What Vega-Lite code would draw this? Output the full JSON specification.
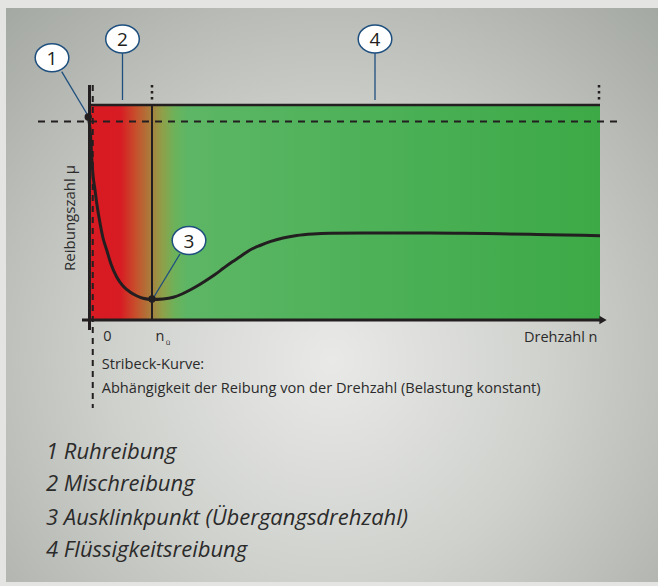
{
  "$schema": "https://vega.github.io/schema/vega-lite/v6.json",
  "width": 658,
  "height": 586,
  "padding": 0,
  "autosize": "none",
  "background": "#e4e5e3",
  "config": {"view": {"stroke": null}},
  "datasets": {
    "panel": [{"x1": -16.8, "x2": 113.6, "y1": 1.56, "y2": -1.31}],
    "box": [{"x1": 0, "x2": 102, "y1": 0, "y2": 1.075}],
    "solid": [
      {"x1": 0, "x2": 102, "y1": 1.075, "y2": 1.075, "w": 2.5},
      {"x1": -0.1, "x2": -0.1, "y1": 1.175, "y2": -0.05, "w": 3},
      {"x1": -1.6, "x2": 102.6, "y1": 0, "y2": 0, "w": 3},
      {"x1": 12.4, "x2": 12.4, "y1": 0, "y2": 1.075, "w": 2}
    ],
    "dotted": [
      {"x1": 12.4, "x2": 12.4, "y1": 1.175, "y2": 1.085},
      {"x1": 101.8, "x2": 101.8, "y1": 1.175, "y2": 1.085}
    ],
    "dashv": [{"x1": 0.55, "x2": 0.55, "y1": 1.175, "y2": -0.44}],
    "dashh": [{"x1": -10.4, "x2": 105.6, "y1": 0.9925, "y2": 0.9925}],
    "curve": [
      {"n": -0.35, "mu": 1.015}, {"n": 0.1, "mu": 0.925}, {"n": 0.34, "mu": 0.815},
      {"n": 0.6, "mu": 0.725}, {"n": 1.0, "mu": 0.65}, {"n": 1.4, "mu": 0.575},
      {"n": 2.0, "mu": 0.485}, {"n": 2.6, "mu": 0.41}, {"n": 3.34, "mu": 0.35},
      {"n": 4.2, "mu": 0.28}, {"n": 5.34, "mu": 0.215}, {"n": 6.6, "mu": 0.17},
      {"n": 8.0, "mu": 0.14}, {"n": 9.4, "mu": 0.12}, {"n": 10.6, "mu": 0.1085},
      {"n": 12.4, "mu": 0.1025}, {"n": 14.6, "mu": 0.105}, {"n": 16.66, "mu": 0.1135},
      {"n": 18.4, "mu": 0.13}, {"n": 20, "mu": 0.15}, {"n": 21.6, "mu": 0.1725},
      {"n": 23.34, "mu": 0.2}, {"n": 25, "mu": 0.2275}, {"n": 26.66, "mu": 0.2585},
      {"n": 28.4, "mu": 0.29}, {"n": 30, "mu": 0.3165}, {"n": 32, "mu": 0.35},
      {"n": 34, "mu": 0.3725}, {"n": 36, "mu": 0.3915}, {"n": 38.6, "mu": 0.41},
      {"n": 41.34, "mu": 0.4225}, {"n": 44.6, "mu": 0.43}, {"n": 48, "mu": 0.4335},
      {"n": 54.6, "mu": 0.435}, {"n": 61.34, "mu": 0.435}, {"n": 68, "mu": 0.435},
      {"n": 74.66, "mu": 0.4335}, {"n": 82, "mu": 0.431}, {"n": 88, "mu": 0.4285},
      {"n": 95, "mu": 0.425}, {"n": 102, "mu": 0.4215}
    ],
    "leaders": [
      {"x1": -5.66, "y1": 1.2415, "x2": -0.6, "y2": 1.03},
      {"x1": 6.5, "y1": 1.335, "x2": 6.5, "y2": 1.1},
      {"x1": 57, "y1": 1.335, "x2": 57, "y2": 1.1},
      {"x1": 18, "y1": 0.33, "x2": 12.6, "y2": 0.1075}
    ],
    "dots": [{"x": -0.35, "y": 1.015}, {"x": 12.4, "y": 0.105}],
    "arrow": [{"x": 102.6, "y": 0}],
    "callouts": [
      {"x": -7.6, "y": 1.311, "label": "1"},
      {"x": 6.5, "y": 1.405, "label": "2"},
      {"x": 19.8, "y": 0.3975, "label": "3"},
      {"x": 57, "y": 1.405, "label": "4"}
    ],
    "centerText": [
      {"x": 3.46, "y": -0.0835, "label": "0"},
      {"x": 14, "y": -0.0835, "label": "n"}
    ],
    "subText": [{"x": 15.6, "y": -0.114, "label": "ü"}],
    "leftText": [
      {"x": 2.34, "y": -0.225, "label": "Stribeck-Kurve:"},
      {"x": 2.34, "y": -0.345, "label": "Abhängigkeit der Reibung von der Drehzahl (Belastung konstant)"}
    ],
    "rightText": [{"x": 101.5, "y": -0.09, "label": "Drehzahl n"}],
    "yTitle": [{"x": -4, "y": 0.51, "label": "Reibungszahl μ"}],
    "legend": [
      {"x": -8.8, "y": -0.6585, "label": "1 Ruhreibung"},
      {"x": -8.8, "y": -0.82, "label": "2 Mischreibung"},
      {"x": -8.8, "y": -0.9885, "label": "3 Ausklinkpunkt (Übergangsdrehzahl)"},
      {"x": -8.8, "y": -1.15, "label": "4 Flüssigkeitsreibung"}
    ]
  },
  "encoding": {
    "x": {"field": "x1", "type": "quantitative", "scale": {"domain": [-18, 113.6], "nice": false, "zero": false}, "axis": null},
    "y": {"field": "y1", "type": "quantitative", "scale": {"domain": [-1.33, 1.6], "nice": false, "zero": false}, "axis": null}
  },
  "layer": [
    {
      "data": {"name": "panel"},
      "mark": {"type": "rect", "fill": {"gradient": "radial", "x1": 0.5, "y1": 0.6, "r1": 0, "x2": 0.5, "y2": 0.6, "r2": 0.75,
        "stops": [{"offset": 0, "color": "#e9eae8"}, {"offset": 0.45, "color": "#cfd1cd"}, {"offset": 1, "color": "#a3a7a1"}]}},
      "encoding": {"x2": {"field": "x2"}, "y2": {"field": "y2"}}
    },
    {
      "data": {"name": "box"},
      "mark": {"type": "rect", "fill": {"gradient": "linear", "x1": 0, "y1": 0, "x2": 1, "y2": 0,
        "stops": [
          {"offset": 0, "color": "#d81a22"}, {"offset": 0.06, "color": "#d81c23"},
          {"offset": 0.09, "color": "#c6502c"}, {"offset": 0.118, "color": "#ab7c3c"},
          {"offset": 0.142, "color": "#8fa049"}, {"offset": 0.166, "color": "#6cb25a"},
          {"offset": 0.19, "color": "#5db665"}, {"offset": 0.5, "color": "#4fb25a"},
          {"offset": 1, "color": "#3ca946"}]}},
      "encoding": {"x2": {"field": "x2"}, "y2": {"field": "y2"}}
    },
    {
      "data": {"name": "dotted"},
      "mark": {"type": "rule", "color": "#231f20", "strokeWidth": 2.5, "strokeDash": [2.5, 3.5]},
      "encoding": {"x2": {"field": "x2"}, "y2": {"field": "y2"}}
    },
    {
      "data": {"name": "dashv"},
      "mark": {"type": "rule", "color": "#231f20", "strokeWidth": 2, "strokeDash": [6, 5]},
      "encoding": {"x2": {"field": "x2"}, "y2": {"field": "y2"}}
    },
    {
      "data": {"name": "dashh"},
      "mark": {"type": "rule", "color": "#231f20", "strokeWidth": 2, "strokeDash": [7, 6]},
      "encoding": {"x2": {"field": "x2"}, "y2": {"field": "y2"}}
    },
    {
      "data": {"name": "solid"},
      "mark": {"type": "rule", "color": "#231f20"},
      "encoding": {"x2": {"field": "x2"}, "y2": {"field": "y2"}, "strokeWidth": {"field": "w", "type": "quantitative", "scale": null}}
    },
    {
      "data": {"name": "arrow"},
      "mark": {"type": "point", "shape": "triangle-right", "filled": true, "color": "#231f20", "size": 70, "opacity": 1},
      "encoding": {"x": {"field": "x", "type": "quantitative"}, "y": {"field": "y", "type": "quantitative"}}
    },
    {
      "data": {"name": "curve"},
      "mark": {"type": "line", "color": "#231f20", "strokeWidth": 3, "interpolate": "monotone"},
      "encoding": {"x": {"field": "n", "type": "quantitative"}, "y": {"field": "mu", "type": "quantitative"}}
    },
    {
      "data": {"name": "leaders"},
      "mark": {"type": "rule", "color": "#1e4f7e", "strokeWidth": 1.3},
      "encoding": {"x2": {"field": "x2"}, "y2": {"field": "y2"}}
    },
    {
      "data": {"name": "dots"},
      "mark": {"type": "point", "shape": "circle", "filled": true, "color": "#231f20", "size": 55, "opacity": 1},
      "encoding": {"x": {"field": "x", "type": "quantitative"}, "y": {"field": "y", "type": "quantitative"}}
    },
    {
      "data": {"name": "callouts"},
      "mark": {"type": "point", "shape": "M-1.2,0A1.2,1,0,1,0,1.2,0A1.2,1,0,1,0,-1.2,0Z", "filled": true, "fill": "#ffffff", "stroke": "#1e4f7e", "strokeWidth": 1.5, "size": 784, "opacity": 1},
      "encoding": {"x": {"field": "x", "type": "quantitative"}, "y": {"field": "y", "type": "quantitative"}}
    },
    {
      "data": {"name": "callouts"},
      "mark": {"type": "text", "font": "Open Sans", "fontSize": 19, "color": "#231f20", "align": "center", "baseline": "middle", "dy": 1},
      "encoding": {"x": {"field": "x", "type": "quantitative"}, "y": {"field": "y", "type": "quantitative"}, "text": {"field": "label"}}
    },
    {
      "data": {"name": "centerText"},
      "mark": {"type": "text", "font": "Open Sans", "fontSize": 14.5, "color": "#2b2b2b", "align": "center", "baseline": "middle"},
      "encoding": {"x": {"field": "x", "type": "quantitative"}, "y": {"field": "y", "type": "quantitative"}, "text": {"field": "label"}}
    },
    {
      "data": {"name": "subText"},
      "mark": {"type": "text", "font": "Open Sans", "fontSize": 7.5, "color": "#2b2b2b", "align": "center", "baseline": "middle"},
      "encoding": {"x": {"field": "x", "type": "quantitative"}, "y": {"field": "y", "type": "quantitative"}, "text": {"field": "label"}}
    },
    {
      "data": {"name": "leftText"},
      "mark": {"type": "text", "font": "Open Sans", "fontSize": 14.6, "color": "#2b2b2b", "align": "left", "baseline": "middle"},
      "encoding": {"x": {"field": "x", "type": "quantitative"}, "y": {"field": "y", "type": "quantitative"}, "text": {"field": "label"}}
    },
    {
      "data": {"name": "rightText"},
      "mark": {"type": "text", "font": "Open Sans", "fontSize": 14.5, "color": "#2b2b2b", "align": "right", "baseline": "middle"},
      "encoding": {"x": {"field": "x", "type": "quantitative"}, "y": {"field": "y", "type": "quantitative"}, "text": {"field": "label"}}
    },
    {
      "data": {"name": "yTitle"},
      "mark": {"type": "text", "font": "Open Sans", "fontSize": 15, "color": "#2b2b2b", "align": "center", "baseline": "middle", "angle": 270},
      "encoding": {"x": {"field": "x", "type": "quantitative"}, "y": {"field": "y", "type": "quantitative"}, "text": {"field": "label"}}
    },
    {
      "data": {"name": "legend"},
      "mark": {"type": "text", "font": "Open Sans", "fontSize": 22, "fontStyle": "italic", "color": "#2b2b2b", "align": "left", "baseline": "middle"},
      "encoding": {"x": {"field": "x", "type": "quantitative"}, "y": {"field": "y", "type": "quantitative"}, "text": {"field": "label"}}
    }
  ]
}
